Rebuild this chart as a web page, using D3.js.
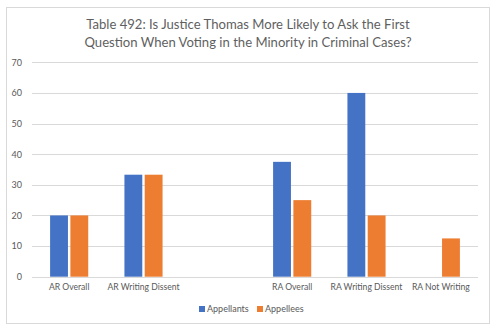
<!DOCTYPE html>
<html>
<head>
<meta charset="utf-8">
<script src="https://cdn.jsdelivr.net/npm/d3@7"></script>
<style>
  html, body { margin: 0; padding: 0; background: #fff; }
  svg { display: block; font-family: Lato, "Open Sans", sans-serif; }
</style>
</head>
<body>
<svg id="chart" width="500" height="333"></svg>
<script>
// Chart content
const titleLines = [
  "Table 492: Is Justice Thomas More Likely to Ask the First",
  "Question When Voting in the Minority in Criminal Cases?"
];
const categories = ["AR Overall", "AR Writing Dissent", "", "RA Overall", "RA Writing Dissent", "RA Not Writing"];
const appellants = [20, 33.3, null, 37.5, 60, null];
const appellees  = [20, 33.3, null, 25, 20, 12.5];
const seriesNames = ["Appellants", "Appellees"];
const seriesColors = ["#4472C4", "#ED7D31"];
const yTicks = [0, 10, 20, 30, 40, 50, 60, 70];

const svg = d3.select("#chart");

// outer chart frame
svg.append("rect")
  .attr("x", 6.5).attr("y", 7.5)
  .attr("width", 483).attr("height", 316)
  .attr("fill", "#fff").attr("stroke", "#d9d9d9").attr("stroke-width", 1);

// title
svg.append("g").selectAll("text")
  .data(titleLines).join("text")
  .attr("x", 248).attr("y", (d, i) => 29 + i * 17.5)
  .attr("text-anchor", "middle")
  .attr("fill", "#5f5f5f")
  .style("font-size", "13.1px")
  .text(d => d);

const plot = { left: 32, right: 478, top: 62.3, bottom: 276.7 };

const x = d3.scaleBand()
  .domain(d3.range(categories.length))
  .range([plot.left, plot.right]);

const y = d3.scaleLinear()
  .domain([0, 70])
  .range([plot.bottom, plot.top]);

// gridlines
svg.append("g").selectAll("line")
  .data(yTicks).join("line")
  .attr("x1", plot.left).attr("x2", plot.right)
  .attr("y1", d => Math.round(y(d)) + 0.5).attr("y2", d => Math.round(y(d)) + 0.5)
  .attr("stroke", "#d9d9d9").attr("stroke-width", 1);

// y axis labels
const yAxis = d3.axisLeft(y).tickValues(yTicks).tickSize(0).tickPadding(0);
const gy = svg.append("g")
  .attr("transform", `translate(${plot.left - 10},0)`)
  .call(yAxis);
gy.select(".domain").remove();
gy.selectAll("text")
  .attr("fill", "#595959")
  .style("font-size", "9px")
  .style("font-family", "Lato, 'Open Sans', sans-serif");

// bars: each series sits inside the category band
const groupWidth = x.bandwidth() * 0.513;
const inner = d3.scaleBand()
  .domain(seriesNames)
  .range([0, groupWidth])
  .paddingInner(0.12);

const bars = [];
categories.forEach((c, i) => {
  [appellants, appellees].forEach((arr, s) => {
    if (arr[i] != null) bars.push({ i, s, v: arr[i] });
  });
});

svg.append("g").selectAll("rect")
  .data(bars).join("rect")
  .attr("x", d => x(d.i) + (x.bandwidth() - groupWidth) / 2 + inner(seriesNames[d.s]))
  .attr("y", d => y(d.v))
  .attr("width", inner.bandwidth())
  .attr("height", d => y(0) - y(d.v))
  .attr("fill", d => seriesColors[d.s]);

// category axis
const xAxis = d3.axisBottom(x).tickFormat(i => categories[i]).tickSize(0).tickPadding(7);
const gx = svg.append("g")
  .attr("transform", `translate(0,${plot.bottom})`)
  .call(xAxis);
gx.select(".domain").remove();
gx.selectAll("text")
  .attr("fill", "#595959")
  .style("font-size", "8.6px")
  .style("font-family", "Lato, 'Open Sans', sans-serif");

// legend
const legend = svg.append("g").attr("transform", "translate(199,309)");
const legendX = [0, 58];
seriesNames.forEach((name, s) => {
  const g = legend.append("g").attr("transform", `translate(${legendX[s]},0)`);
  g.append("rect").attr("x", 0).attr("y", -3).attr("width", 6).attr("height", 6).attr("fill", seriesColors[s]);
  g.append("text").attr("x", 8).attr("y", 3.2)
    .attr("fill", "#595959").style("font-size", "9px").text(name);
});
</script>
</body>
</html>
